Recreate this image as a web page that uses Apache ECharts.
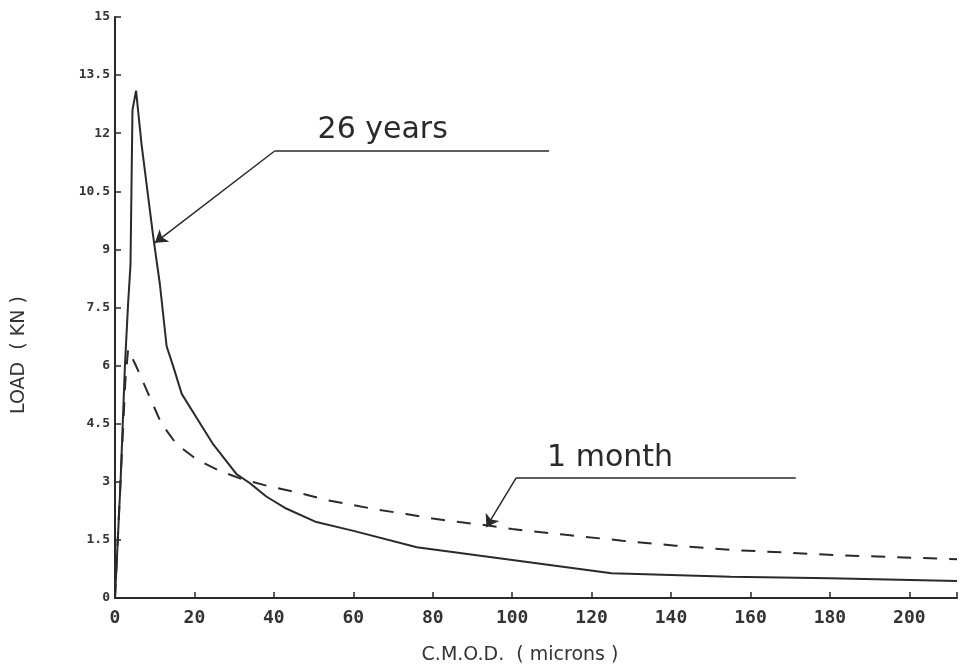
<!DOCTYPE html>
<html>
<head>
<meta charset="utf-8">
<script src="https://cdn.jsdelivr.net/npm/echarts@6/dist/echarts.min.js"></script>
<style>html,body{margin:0;padding:0;background:#fff}#c{width:960px;height:672px}</style>
</head>
<body>
<div id="c"></div>
<script>
// x ticks and y ticks
const xTicks = [0, 20, 40, 60, 80, 100, 120, 140, 160, 180, 200];
const yTicks = [0, 1.5, 3, 4.5, 6, 7.5, 9, 10.5, 12, 13.5, 15];

// "26 years" curve: [CMOD (microns), load (kN)]
const years26 = [
  [0, 0], [1.4, 3.0], [2.5, 6.0], [3.3, 7.6], [3.9, 8.6], [4.4, 12.6], [5.3, 13.1],
  [6.7, 11.7], [9.6, 9.35], [11.3, 8.1], [13.0, 6.5], [14.6, 6.0], [16.8, 5.27],
  [20.5, 4.66], [24.7, 3.97], [30.6, 3.2], [33.9, 2.97], [38.1, 2.62], [43.1, 2.31],
  [50.7, 1.96], [59.8, 1.74], [76, 1.31], [125, 0.64], [155, 0.55], [180, 0.51], [212, 0.44]
];

// "1 month" curve
const month1 = [
  [0, 0], [1.2, 2.6], [2.6, 5.6], [3.3, 6.42], [3.8, 6.38], [5.4, 5.97], [8.0, 5.36],
  [11.7, 4.5], [15.5, 3.97], [20.5, 3.58], [26.4, 3.28], [32.2, 3.06], [38.9, 2.88],
  [46.5, 2.71], [53.2, 2.53], [59.9, 2.4], [66.6, 2.27], [73.3, 2.17], [80, 2.05],
  [86.7, 1.96], [93.4, 1.88], [100, 1.78], [113.5, 1.63], [127.7, 1.48], [141.1, 1.35],
  [155.4, 1.24], [169.6, 1.17], [183, 1.1], [195.6, 1.06], [212, 1.0]
];

// annotation anchors (data coordinates)
const labels = ['26 years', '1 month'];
const labelPos = [[51.0, 12.09], [108.8, 3.60]];
const leaderLines = [
  [[109.3, 11.54], [40.2, 11.54]],
  [[171.4, 3.10], [101, 3.10]]
];
const arrowLines = [
  [[40.2, 11.54], [10.05, 9.17]],
  [[101, 3.10], [93.5, 1.83]]
];

const ink = '#2a2a2a';
const chart = echarts.init(document.getElementById('c'));

chart.setOption({
  backgroundColor: '#fff',
  animation: false,
  grid: { left: 115, right: 0, top: 17, bottom: 74, containLabel: false },
  xAxis: {
    type: 'value', min: 0, max: 212, interval: 20,
    axisLine: { lineStyle: { color: ink, width: 2 } },
    axisTick: { inside: true, length: 6, lineStyle: { color: ink, width: 1.5 } },
    axisLabel: { margin: 11, showMaxLabel: true,
      fontFamily: 'DejaVu Sans Mono', fontWeight: 'bold', fontSize: 18, color: '#333',
      formatter: v => xTicks.indexOf(v) >= 0 ? String(v) : '' },
    splitLine: { show: false }
  },
  yAxis: {
    type: 'value', min: 0, max: 15, interval: 1.5,
    axisLine: { show: true, lineStyle: { color: ink, width: 2 } },
    axisTick: { show: true, inside: true, length: 6, lineStyle: { color: ink, width: 1.5 } },
    axisLabel: { margin: 5,
      fontFamily: 'DejaVu Sans Mono', fontWeight: 'bold', fontSize: 13, color: '#333',
      formatter: v => yTicks.indexOf(v) >= 0 ? String(v) : '' },
    splitLine: { show: false }
  },
  series: [
    {
      name: '26 years', type: 'line', data: years26, showSymbol: false, smooth: false,
      lineStyle: { color: ink, width: 2 }
    },
    {
      name: '1 month', type: 'line', data: month1, showSymbol: false, smooth: false,
      lineStyle: { color: ink, width: 2, type: [14, 12] }
    },
    {
      type: 'lines', coordinateSystem: 'cartesian2d', symbol: ['none', 'none'],
      lineStyle: { color: ink, width: 1.5, opacity: 1, curveness: 0 },
      data: leaderLines.map(c => ({ coords: c }))
    },
    {
      type: 'lines', coordinateSystem: 'cartesian2d', symbol: ['none', 'arrow'], symbolSize: 12,
      lineStyle: { color: ink, width: 1.5, opacity: 1, curveness: 0 },
      data: arrowLines.map(c => ({ coords: c }))
    }
  ]
});

const texts = labels.map((t, i) => {
  const p = chart.convertToPixel({ gridIndex: 0 }, labelPos[i]);
  return {
    type: 'text', x: p[0], y: p[1],
    style: { text: t, font: '30px "DejaVu Sans"', fill: ink, align: 'left', verticalAlign: 'middle' }
  };
});
texts.push({
  type: 'text', x: 520, y: 655,
  style: { text: 'C.M.O.D.  ( microns )', font: '19px "DejaVu Sans"', fill: '#333', align: 'center', verticalAlign: 'middle' }
});
texts.push({
  type: 'text', x: 19, y: 355, rotation: Math.PI / 2,
  style: { text: 'LOAD  ( KN )', font: '19px "DejaVu Sans"', fill: '#333', align: 'center', verticalAlign: 'middle' }
});
chart.setOption({ graphic: texts });
</script>
</body>
</html>
